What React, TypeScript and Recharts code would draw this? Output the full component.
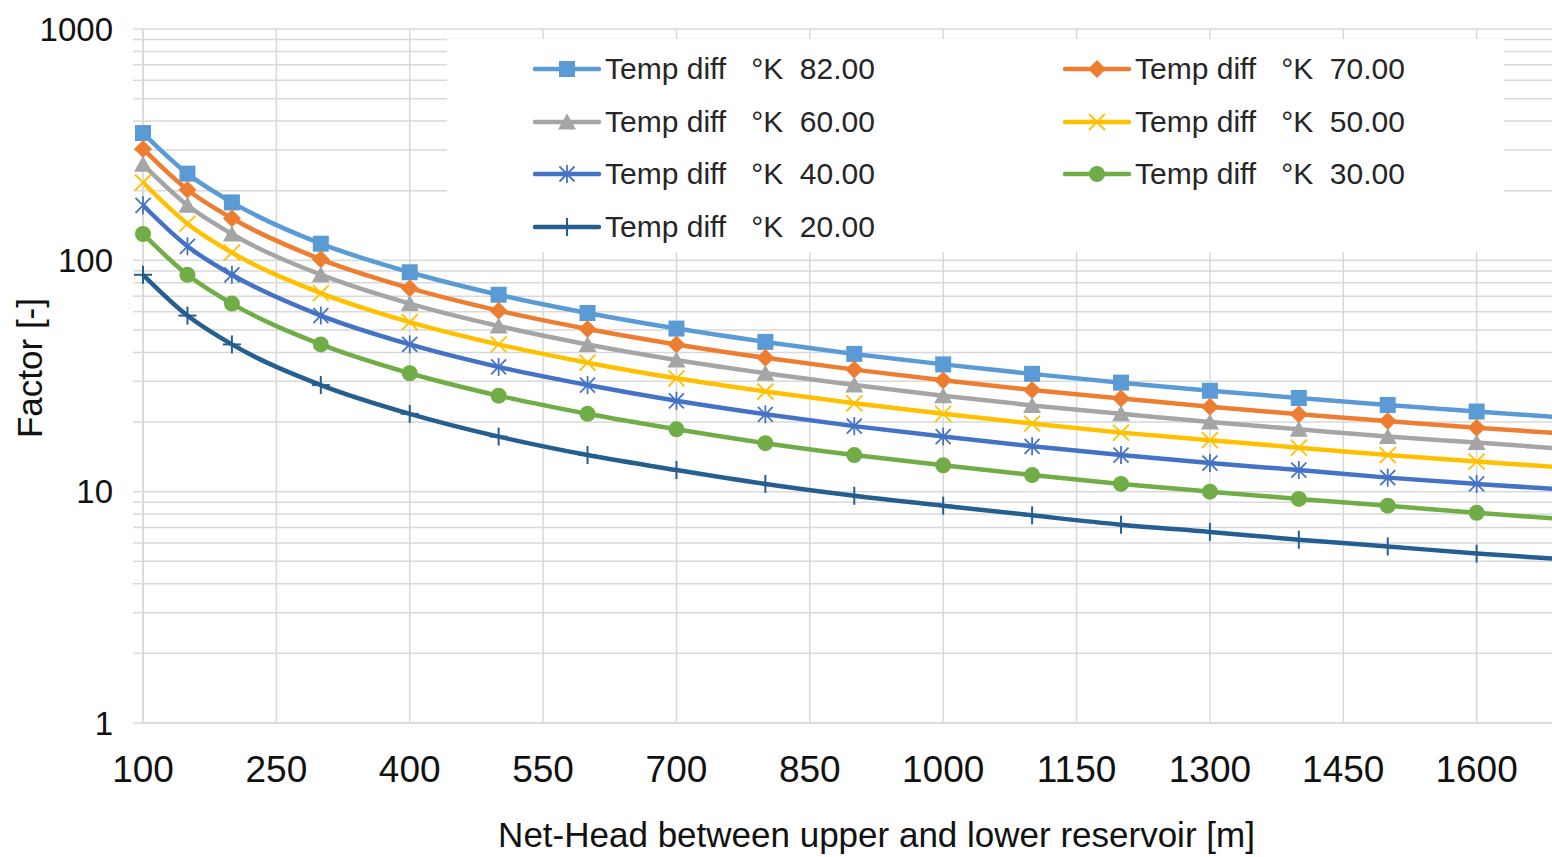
import React from 'react';
import { LineChart, Line, XAxis, YAxis, CartesianGrid, Legend, Label } from 'recharts';

// Net head [m]
const HEAD = [100, 150, 200, 300, 400, 500, 600, 700, 800, 900, 1000, 1100, 1200, 1300, 1400, 1500, 1600, 1700];

// Factor values, one list per temperature difference
const T82 = [355, 237, 178, 118, 88.8, 71.0, 59.2, 50.7, 44.4, 39.4, 35.5, 32.3, 29.6, 27.3, 25.4, 23.7, 22.2, 20.9];
const T70 = [303, 202, 152, 101, 75.8, 60.6, 50.5, 43.3, 37.9, 33.7, 30.3, 27.5, 25.3, 23.3, 21.6, 20.2, 18.9, 17.8];
const T60 = [260, 173, 130, 86.7, 65.0, 52.0, 43.3, 37.1, 32.5, 28.9, 26.0, 23.6, 21.7, 20.0, 18.6, 17.3, 16.3, 15.3];
const T50 = [217, 144, 108, 72.2, 54.1, 43.3, 36.1, 30.9, 27.1, 24.1, 21.7, 19.7, 18.0, 16.7, 15.5, 14.4, 13.5, 12.7];
const T40 = [173, 115, 86.6, 57.7, 43.3, 34.6, 28.9, 24.7, 21.6, 19.2, 17.3, 15.7, 14.4, 13.3, 12.4, 11.5, 10.8, 10.2];
const T30 = [130, 86.6, 65.0, 43.3, 32.5, 26.0, 21.7, 18.6, 16.2, 14.4, 13.0, 11.8, 10.8, 10.0, 9.3, 8.7, 8.1, 7.6];
const T20 = [86.6, 57.7, 43.3, 28.9, 21.7, 17.3, 14.4, 12.4, 10.8, 9.6, 8.7, 7.9, 7.2, 6.7, 6.2, 5.8, 5.4, 5.1];

const X_TICKS = [100, 250, 400, 550, 700, 850, 1000, 1150, 1300, 1450, 1600];
const Y_TICKS = [1, 2, 3, 4, 5, 6, 7, 8, 9, 10, 20, 30, 40, 50, 60, 70, 80, 90, 100, 200, 300, 400, 500, 600, 700, 800, 900, 1000];
const Y_LABELS = [1, 10, 100, 1000];

type Shape = 'square' | 'diamond' | 'triangle' | 'x' | 'star' | 'circle' | 'plus';

const SERIES: { key: string; label: string; color: string; shape: Shape; values: number[] }[] = [
  { key: 't82', label: 'Temp diff   °K  82.00', color: '#5B9BD5', shape: 'square', values: T82 },
  { key: 't70', label: 'Temp diff   °K  70.00', color: '#ED7D31', shape: 'diamond', values: T70 },
  { key: 't60', label: 'Temp diff   °K  60.00', color: '#A5A5A5', shape: 'triangle', values: T60 },
  { key: 't50', label: 'Temp diff   °K  50.00', color: '#FFC000', shape: 'x', values: T50 },
  { key: 't40', label: 'Temp diff   °K  40.00', color: '#4472C4', shape: 'star', values: T40 },
  { key: 't30', label: 'Temp diff   °K  30.00', color: '#70AD47', shape: 'circle', values: T30 },
  { key: 't20', label: 'Temp diff   °K  20.00', color: '#255E91', shape: 'plus', values: T20 },
];

const data = HEAD.map((h, i) => {
  const row: Record<string, number> = { head: h };
  SERIES.forEach((s) => (row[s.key] = s.values[i]));
  return row;
});

const FONT = '"Liberation Sans", Arial, sans-serif';
const GRID = '#D9D9D9';

function Marker({ cx, cy, shape, color }: { cx: number; cy: number; shape: Shape; color: string }) {
  switch (shape) {
    case 'square':
      return <rect x={cx - 8} y={cy - 8} width={16} height={16} fill={color} />;
    case 'diamond':
      return <polygon points={`${cx},${cy - 9} ${cx + 9},${cy} ${cx},${cy + 9} ${cx - 9},${cy}`} fill={color} />;
    case 'triangle':
      return <polygon points={`${cx},${cy - 8.5} ${cx + 9},${cy + 7.5} ${cx - 9},${cy + 7.5}`} fill={color} />;
    case 'x':
      return (
        <g stroke={color} strokeWidth={1.8}>
          <line x1={cx - 8} y1={cy - 8} x2={cx + 8} y2={cy + 8} />
          <line x1={cx - 8} y1={cy + 8} x2={cx + 8} y2={cy - 8} />
        </g>
      );
    case 'star':
      return (
        <g stroke={color} strokeWidth={1.8}>
          <line x1={cx - 7.5} y1={cy - 7.5} x2={cx + 7.5} y2={cy + 7.5} />
          <line x1={cx - 7.5} y1={cy + 7.5} x2={cx + 7.5} y2={cy - 7.5} />
          <line x1={cx} y1={cy - 9} x2={cx} y2={cy + 9} />
        </g>
      );
    case 'circle':
      return <circle cx={cx} cy={cy} r={8} fill={color} />;
    case 'plus':
      return (
        <g stroke={color} strokeWidth={2}>
          <line x1={cx} y1={cy - 9} x2={cx} y2={cy + 9} />
          <line x1={cx - 9} y1={cy} x2={cx + 9} y2={cy} />
        </g>
      );
  }
  return null;
}

const LegendBox = () => (
  <div style={{ position: 'relative', width: 1057, height: 213, background: '#fff', fontFamily: FONT }}>
    {SERIES.map((s, i) => {
      const col = i % 2;
      const row = Math.floor(i / 2);
      const left = col === 0 ? 86 : 616;
      const top = [30, 83, 135, 188][row];
      return (
        <div key={s.key} style={{ position: 'absolute', left, top: top - 18, height: 36, display: 'flex', alignItems: 'center' }}>
          <svg width={70} height={36} style={{ display: 'block' }}>
            <line x1={2} y1={18} x2={66} y2={18} stroke={s.color} strokeWidth={4.5} strokeLinecap="round" />
            <Marker cx={34} cy={18} shape={s.shape} color={s.color} />
          </svg>
          <span style={{ whiteSpace: 'pre', fontSize: 30, color: '#262626', marginLeft: 2, lineHeight: '36px' }}>{s.label}</span>
        </div>
      );
    })}
  </div>
);

export default function App() {
  return (
    <div style={{ width: 1552, height: 857, overflow: 'hidden', background: '#fff' }}>
      <style>{'body{margin:0}'}</style>
      <LineChart width={1615} height={857} data={data} margin={{ top: 29, right: 5, bottom: 0, left: 0 }}>
        <CartesianGrid stroke={GRID} strokeWidth={1.5} />
        <XAxis
          dataKey="head"
          type="number"
          domain={[100, 1750]}
          ticks={X_TICKS}
          height={134}
          tickLine={false}
          tickSize={10}
          tickMargin={23}
          axisLine={{ stroke: GRID, strokeWidth: 1.5 }}
          tick={{ fontSize: 37, fill: '#111', fontFamily: FONT }}
        >
          <Label
            value="Net-Head between upper and lower reservoir [m]"
            position="insideBottom"
            offset={10}
            style={{ fontSize: 35, fill: '#111', fontFamily: FONT }}
          />
        </XAxis>
        <YAxis
          scale="log"
          type="number"
          domain={[1, 1000]}
          ticks={Y_TICKS}
          interval={0}
          width={143}
          tickSize={10}
          tickMargin={20}
          tickLine={{ stroke: GRID, strokeWidth: 1.5 }}
          axisLine={{ stroke: GRID, strokeWidth: 1.5 }}
          tickFormatter={(v: number) => (Y_LABELS.includes(v) ? String(v) : '')}
          tick={{ fontSize: 33, fill: '#111', fontFamily: FONT }}
        >
          <Label
            content={() => (
              <text
                x={0}
                y={0}
                transform="translate(42 368) rotate(-90)"
                textAnchor="middle"
                style={{ fontSize: 35, fill: '#111', fontFamily: FONT }}
              >
                Factor [-]
              </text>
            )}
          />
        </YAxis>
        <Legend
          layout="vertical"
          align="center"
          verticalAlign="middle"
          content={() => <LegendBox />}
          wrapperStyle={{ position: 'absolute', left: 447, top: 39, width: 1057, height: 213 }}
        />
        {SERIES.map((s) => (
          <Line
            key={s.key}
            dataKey={s.key}
            name={s.label}
            type="monotone"
            stroke={s.color}
            strokeWidth={4.5}
            isAnimationActive={false}
            dot={(p: any) => <Marker key={`${s.key}-${p.index}`} cx={p.cx} cy={p.cy} shape={s.shape} color={s.color} />}
            activeDot={false}
          />
        ))}
      </LineChart>
    </div>
  );
}
